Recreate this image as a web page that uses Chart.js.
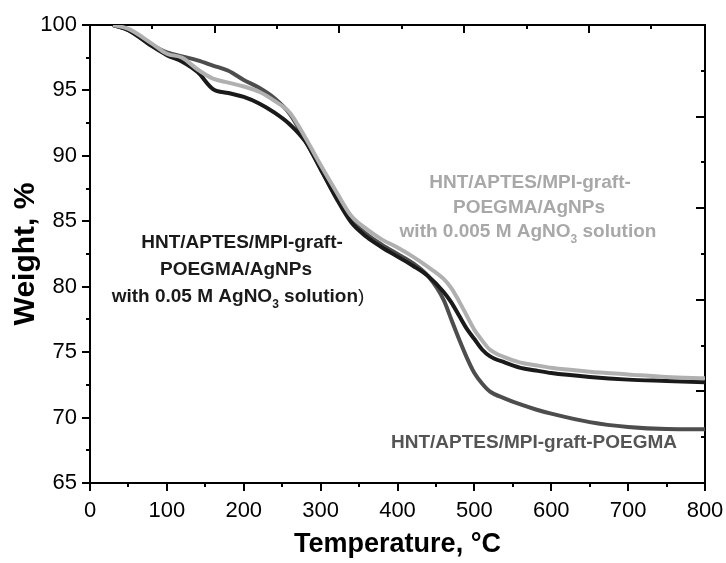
<!DOCTYPE html>
<html>
<head>
<meta charset="utf-8">
<script src="https://cdn.jsdelivr.net/npm/chart.js@4/dist/chart.umd.min.js"></script>
<style>
  html, body { margin: 0; padding: 0; background: #fff; }
  #wrap { width: 726px; height: 563px; }
</style>
</head>
<body>
<div id="wrap"><canvas id="tga"></canvas></div>
<script>
// Temperature points (°C) shared by all three TGA curves
const temps = [30, 50, 80, 100, 120, 140, 160, 180, 200, 220, 240, 260, 280, 300, 320, 340, 360, 380, 400,
               420, 440, 460, 470, 480, 490, 500, 510, 520, 540, 560, 580, 600, 650, 700, 750, 800];

// Weight, % for each sample
const agnp005M = [100, 99.6, 98.4, 97.7, 97.2, 96.4, 95.1, 94.8, 94.5, 94.0, 93.3, 92.4, 91.1, 89.0, 86.8, 84.9, 83.8, 83.0, 82.3,
                  81.6, 80.8, 79.6, 78.8, 77.8, 76.8, 76.0, 75.2, 74.7, 74.2, 73.8, 73.6, 73.4, 73.1, 72.9, 72.8, 72.7];
const agnp0005M = [100, 99.7, 98.6, 97.8, 97.5, 96.6, 95.9, 95.6, 95.3, 94.9, 94.2, 93.3, 91.4, 89.3, 87.3, 85.4, 84.4, 83.6, 83.0,
                   82.3, 81.5, 80.6, 79.9, 78.9, 77.8, 76.7, 75.9, 75.2, 74.6, 74.2, 74.0, 73.8, 73.5, 73.3, 73.1, 73.0];
const poegma = [100, 99.6, 98.5, 97.9, 97.6, 97.3, 96.9, 96.5, 95.8, 95.2, 94.4, 93.2, 91.2, 89.0, 86.9, 85.1, 84.0, 83.2, 82.5,
                81.8, 80.8, 79.0, 77.5, 76.0, 74.6, 73.4, 72.6, 72.0, 71.45, 71.0, 70.62, 70.3, 69.65, 69.28, 69.12, 69.1];

const xTicks = [0, 100, 200, 300, 400, 500, 600, 700, 800];
const yTicks = [65, 70, 75, 80, 85, 90, 95, 100];

const FONT = "'Liberation Sans', Arial, sans-serif";

function pts(ys) {
    return temps.map((t, i) => ({ x: t, y: ys[i] }));
}

// Tick marks drawn by hand so that minor ones can be shorter
const tickMarks = {
    id: 'tickMarks',
    afterDraw(chart) {
        const ctx = chart.ctx;
        const s = chart.scales;
        ctx.save();
        ctx.strokeStyle = '#000';
        ctx.lineWidth = 2;
        ctx.beginPath();
        // bottom axis, outward
        for (let v = 0; v <= 800; v += 50) {
            const px = Math.round(s.x.getPixelForValue(v));
            const len = v % 100 === 0 ? 8 : 4;
            ctx.moveTo(px, s.x.top); ctx.lineTo(px, s.x.top + len);
        }
        // left axis, outward
        for (let v = 65; v <= 100; v += 2.5) {
            const py = Math.round(s.y.getPixelForValue(v));
            const len = v % 5 === 0 ? 8 : 4;
            ctx.moveTo(s.y.right, py); ctx.lineTo(s.y.right - len, py);
        }
        // top axis, inward
        for (let v = 100; v <= 900; v += 100) {
            const px = Math.round(s.x2.getPixelForValue(v));
            const len = v % 200 === 0 ? 8 : 4;
            ctx.moveTo(px, s.x2.bottom); ctx.lineTo(px, s.x2.bottom + len);
        }
        // right axis, inward
        for (let v = 10; v <= 90; v += 10) {
            const py = Math.round(s.y2.getPixelForValue(v));
            const len = v % 20 === 0 ? 9 : 4;
            ctx.moveTo(s.y2.left, py); ctx.lineTo(s.y2.left - len, py);
        }
        ctx.stroke();
        ctx.restore();
    }
};

// Curve labels, with subscript support
const labels = [
    { x: 242, y: 243, color: '#1a1a1a', parts: [['HNT/APTES/MPI-graft-']] },
    { x: 236, y: 270, color: '#1a1a1a', parts: [['POEGMA/AgNPs']] },
    { x: 238, y: 297, color: '#1a1a1a', parts: [['with 0.05 M AgNO'], ['3', true], [' solution'], [')', false, true]] },
    { x: 530, y: 183, color: '#a8a8a8', parts: [['HNT/APTES/MPI-graft-']] },
    { x: 529, y: 208, color: '#a8a8a8', parts: [['POEGMA/AgNPs']] },
    { x: 528, y: 232, color: '#a8a8a8', parts: [['with 0.005 M AgNO'], ['3', true], [' solution']] },
    { x: 534, y: 443, color: '#555555', parts: [['HNT/APTES/MPI-graft-POEGMA']] }
];

const curveLabels = {
    id: 'curveLabels',
    afterDraw(chart) {
        const ctx = chart.ctx;
        ctx.save();
        ctx.textBaseline = 'middle';
        ctx.textAlign = 'left';
        labels.forEach(l => {
            const fontFor = p => p[1] ? `bold 12px ${FONT}` : (p[2] ? `19px ${FONT}` : `bold 19px ${FONT}`);
            let total = 0;
            l.parts.forEach(p => { ctx.font = fontFor(p); total += ctx.measureText(p[0]).width; });
            let cx = l.x - total / 2;
            ctx.fillStyle = l.color;
            l.parts.forEach(p => {
                ctx.font = fontFor(p);
                ctx.fillText(p[0], cx, p[1] ? l.y + 8 : l.y);
                cx += ctx.measureText(p[0]).width;
            });
        });
        ctx.restore();
    }
};

const lineStyle = (color) => ({
    borderColor: color,
    backgroundColor: color,
    borderWidth: 4,
    pointRadius: 0,
    fill: false,
    cubicInterpolationMode: 'monotone'
});

new Chart(document.getElementById('tga'), {
    type: 'line',
    data: {
        datasets: [
            { label: '0.005 M AgNO3', data: pts(agnp0005M), ...lineStyle('#b0b0b0') },
            { label: '0.05 M AgNO3', data: pts(agnp005M), ...lineStyle('#1a1a1a') },
            { label: 'POEGMA', data: pts(poegma), ...lineStyle('#4d4d4d') }
        ]
    },
    options: {
        responsive: true,
        maintainAspectRatio: false,
        animation: false,
        layout: { padding: 0, autoPadding: false },
        plugins: { legend: { display: false }, tooltip: { enabled: false } },
        scales: {
            x: {
                type: 'linear', position: 'bottom', min: 0, max: 800,
                afterFit: s => { s.height = 80; s.paddingLeft = 0; s.paddingRight = 0; },
                afterBuildTicks: s => { s.ticks = xTicks.map(v => ({ value: v })); },
                grid: { display: false, drawTicks: false },
                border: { display: true, color: '#000', width: 2 },
                ticks: { color: '#000', font: { family: FONT, size: 22 }, padding: 15, maxRotation: 0 },
                title: { display: true, text: 'Temperature, °C', color: '#000',
                         font: { family: FONT, size: 27, weight: 'bold' }, padding: { top: 0, bottom: 2 } }
            },
            x2: {
                type: 'linear', position: 'top', min: 0, max: 986,
                afterFit: s => { s.height = 25; s.paddingLeft = 0; s.paddingRight = 0; },
                grid: { display: false, drawTicks: false },
                border: { display: true, color: '#000', width: 2 },
                ticks: { display: false }
            },
            y: {
                type: 'linear', position: 'left', min: 65, max: 100,
                afterFit: s => { s.width = 90; s.paddingTop = 0; s.paddingBottom = 0; },
                afterBuildTicks: s => { s.ticks = yTicks.map(v => ({ value: v })); },
                grid: { display: false, drawTicks: false },
                border: { display: true, color: '#000', width: 2 },
                ticks: { color: '#000', font: { family: FONT, size: 22 }, padding: 13 },
                title: { display: true, text: 'Weight, %', color: '#000',
                         font: { family: FONT, size: 30, weight: 'bold' }, padding: { top: 8, bottom: 0 } }
            },
            y2: {
                type: 'linear', position: 'right', min: 0, max: 100,
                afterFit: s => { s.width = 21; },
                grid: { display: false, drawTicks: false },
                border: { display: true, color: '#000', width: 2 },
                ticks: { display: false }
            }
        }
    },
    plugins: [tickMarks, curveLabels]
});
</script>
</body>
</html>
